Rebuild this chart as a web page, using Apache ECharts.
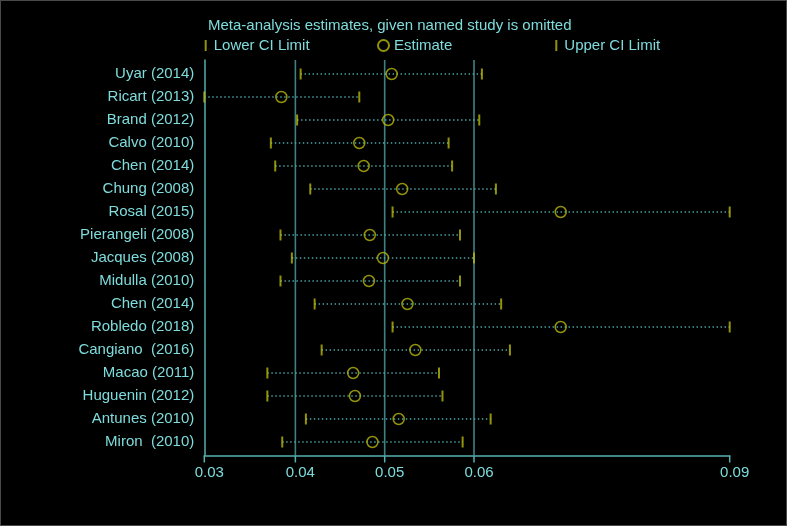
<!DOCTYPE html>
<html>
<head>
<meta charset="utf-8">
<script src="https://cdn.jsdelivr.net/npm/echarts@6/dist/echarts.min.js"></script>
<style>
html,body{margin:0;padding:0;background:#000;}
#chart{width:787px;height:526px;}
#frame{position:absolute;left:0;top:0;width:787px;height:526px;box-sizing:border-box;border:1px solid #4a4a4a;pointer-events:none;}
</style>
</head>
<body>
<div id="chart"></div>
<div id="frame"></div>
<script>
const studies = ["Uyar (2014)", "Ricart (2013)", "Brand (2012)", "Calvo (2010)", "Chen (2014)", "Chung (2008)", "Rosal (2015)", "Pierangeli (2008)", "Jacques (2008)", "Midulla (2010)", "Chen (2014)", "Robledo (2018)", "Cangiano  (2016)", "Macao (2011)", "Huguenin (2012)", "Antunes (2010)", "Miron  (2010)"];
const lower = [0.0410, 0.0300, 0.0406, 0.0376, 0.0381, 0.0421, 0.0515, 0.0387, 0.0400, 0.0387, 0.0426, 0.0515, 0.0434, 0.0372, 0.0372, 0.0416, 0.0389];
const estimate = [0.0514, 0.0388, 0.0510, 0.0477, 0.0482, 0.0526, 0.0707, 0.0489, 0.0504, 0.0488, 0.0532, 0.0707, 0.0541, 0.0470, 0.0472, 0.0522, 0.0492];
const upper = [0.0617, 0.0477, 0.0614, 0.0579, 0.0583, 0.0633, 0.0900, 0.0592, 0.0608, 0.0592, 0.0639, 0.0900, 0.0649, 0.0568, 0.0572, 0.0627, 0.0595];
const overall = [0.0404, 0.0506, 0.0608];
const xTicks = [0.03, 0.0404, 0.0506, 0.0608, 0.09];
const titleText = "Meta-analysis estimates, given named study is omitted";

const TXT = '#7fdcdc';
const YEL = '#b8b80c';
const AXIS = '#55b0b0';
const REF = '#3f8082';
const DOT = '#4fa6a6';
const FONT = 'Liberation Sans, Arial, sans-serif';
const Y_MIN = 0.3913, Y_MAX = 17.587;

const rows = studies.map((s, i) => i + 1);
const tickPath = 'path://M0,0L2,0L2,11L0,11Z';

const chart = echarts.init(document.getElementById('chart'), null, {renderer: 'canvas'});
chart.setOption({
  backgroundColor: '#000',
  animation: false,
  title: {
    text: titleText, left: 208, top: 17, padding: 0,
    textStyle: {color: TXT, fontSize: 15, fontWeight: 'normal', fontFamily: FONT, lineHeight: 17}
  },
  legend: [
    {data: [{name: 'Lower CI Limit', icon: tickPath}], left: 204.7, top: 37, padding: 0, itemWidth: 6, itemHeight: 11,
     textStyle: {color: TXT, fontSize: 15, fontFamily: FONT, lineHeight: 17}, selectedMode: false},
    {data: [{name: 'Estimate', icon: 'circle'}], left: 377, top: 37, padding: 0, itemWidth: 11, itemHeight: 11,
     textStyle: {color: TXT, fontSize: 15, fontFamily: FONT, lineHeight: 17}, selectedMode: false},
    {data: [{name: 'Upper CI Limit', icon: tickPath}], left: 555.3, top: 37, padding: 0, itemWidth: 6, itemHeight: 11,
     textStyle: {color: TXT, fontSize: 15, fontFamily: FONT, lineHeight: 17}, selectedMode: false}
  ],
  grid: {left: 204.3, right: 57.3, top: 60, bottom: 70.5, containLabel: false},
  xAxis: {
    type: 'value', min: 0.03, max: 0.09,
    splitLine: {show: false},
    axisLine: {show: true, lineStyle: {color: AXIS, width: 1.5}},
    axisTick: {show: false},
    axisLabel: {show: true, customValues: xTicks, formatter: v => v.toFixed(2), color: TXT, fontSize: 15, fontFamily: FONT, margin: 10, padding: [0, 0, 0, 10]}
  },
  yAxis: {
    type: 'value', inverse: true, min: Y_MIN, max: Y_MAX,
    splitLine: {show: false},
    axisLine: {show: true, lineStyle: {color: AXIS, width: 1.5}},
    axisTick: {show: false},
    axisLabel: {show: true, customValues: rows, formatter: v => studies[Math.round(v) - 1] || '', color: TXT, fontSize: 15, fontFamily: FONT, margin: 10}
  },
  series: [
    {
      type: 'custom', z: 1, silent: true, clip: false,
      data: overall.map(v => [v]),
      encode: {x: 0},
      renderItem: function (params, api) {
        const a = api.coord([api.value(0), Y_MIN]);
        const b = api.coord([api.value(0), Y_MAX]);
        return {
          type: 'line',
          shape: {x1: a[0], y1: a[1], x2: b[0], y2: b[1]},
          style: {stroke: REF, lineWidth: 1.6}
        };
      }
    },
    {
      type: 'custom', z: 1, silent: true, clip: false,
      data: xTicks.map(v => [v]),
      encode: {x: 0},
      renderItem: function (params, api) {
        const b = api.coord([api.value(0), Y_MAX]);
        return {
          type: 'line',
          shape: {x1: b[0], y1: b[1], x2: b[0], y2: b[1] + 7},
          style: {stroke: AXIS, lineWidth: 1.5}
        };
      }
    },
    {
      type: 'custom', z: 2, silent: true,
      data: studies.map((s, i) => [lower[i], upper[i], i + 1]),
      encode: {x: [0, 1], y: 2},
      renderItem: function (params, api) {
        const a = api.coord([api.value(0), api.value(2)]);
        const b = api.coord([api.value(1), api.value(2)]);
        return {
          type: 'line',
          shape: {x1: a[0], y1: a[1], x2: b[0], y2: b[1]},
          style: {stroke: DOT, lineWidth: 1.4, lineDash: [1.4, 2.6]}
        };
      }
    },
    {
      name: 'Lower CI Limit', type: 'scatter', z: 3,
      data: studies.map((s, i) => [lower[i], i + 1]),
      symbol: 'rect', symbolSize: [2, 11],
      itemStyle: {color: YEL}
    },
    {
      name: 'Upper CI Limit', type: 'scatter', z: 3,
      data: studies.map((s, i) => [upper[i], i + 1]),
      symbol: 'rect', symbolSize: [2, 11],
      itemStyle: {color: YEL}
    },
    {
      name: 'Estimate', type: 'scatter', z: 4,
      data: studies.map((s, i) => [estimate[i], i + 1]),
      symbol: 'circle', symbolSize: 11,
      itemStyle: {color: 'rgba(0,0,0,0)', borderColor: YEL, borderWidth: 1.5}
    }
  ]
});
</script>
</body>
</html>
